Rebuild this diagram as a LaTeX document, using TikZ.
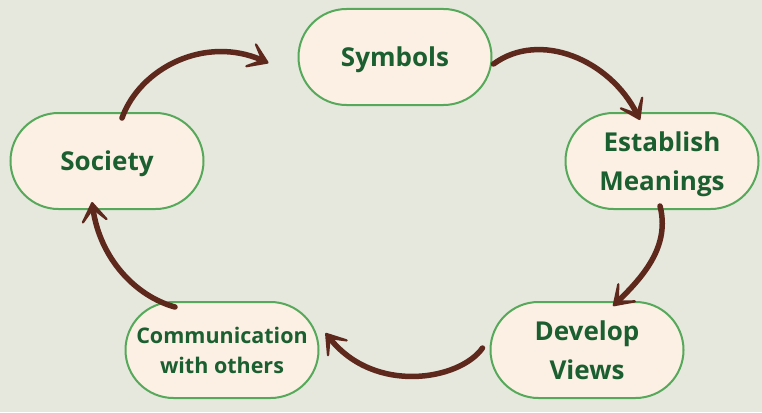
\documentclass[tikz,border=0pt]{standalone}
\usepackage{fontspec}
\setmainfont{Open Sans}
\usetikzlibrary{arrows.meta}
\definecolor{bgc}{HTML}{E6E8DD}
\definecolor{cream}{HTML}{FBF0E3}
\definecolor{pillborder}{HTML}{56A95A}
\definecolor{txtgreen}{HTML}{1B5E30}
\definecolor{brown}{HTML}{5E281D}
\tikzset{
  pill/.style={draw=pillborder, line width=2pt, fill=cream, minimum width=193pt,
    minimum height=96pt, rounded corners=48pt, align=center, text=txtgreen,
    font=\bfseries\fontsize{26}{39}\selectfont, inner sep=0pt, text depth=0pt},
  smallpill/.style={pill, font=\bfseries\fontsize{21.5}{30}\selectfont},
  brusharrow/.style={draw=brown, line width=5.5pt, line cap=round,
    -{Stealth[length=30pt, width=40pt, inset=21pt, round]}}
}
\begin{document}
\begin{tikzpicture}[x=1pt, y=-1pt]
\fill[bgc] (0,0) rectangle (762,412);
\useasboundingbox (0,0) rectangle (762,412);
\node[pill] (sym) at (395,57) {Symbols};
\node[pill] (est) at (662,161) {Establish\\Meanings};
\node[pill] (soc) at (107,161) {Society};
\node[pill] (dev) at (587,350) {Develop\\Views};
\node[smallpill] (com) at (222,350) {Communication\\with others};
% connector end points
\coordinate (a1s) at ([shift={(15pt,-6pt)}]soc.north);
\coordinate (a1e) at ([shift={(-29pt,-6pt)}]sym.west);
\coordinate (a2s) at ([shift={(1pt,-7pt)}]sym.east);
\coordinate (a2e) at ([shift={(-22pt,-8pt)}]est.north);
\coordinate (a3s) at ([shift={(-2pt,4pt)}]est.south);
\coordinate (a3e) at ([shift={(26pt,-5pt)}]dev.north);
\coordinate (a4s) at ([shift={(-7pt,2pt)}]dev.west);
\coordinate (a4e) at ([shift={(6pt,17pt)}]com.east);
\coordinate (a5s) at ([shift={(-47pt,-6pt)}]com.north);
\coordinate (a5e) at ([shift={(-15pt,8pt)}]soc.south);
\draw[brusharrow] (a1s) .. controls (140,68) and (205,35) .. (a1e);
\draw[brusharrow] (a2s) .. controls (540,30) and (610,60) .. (a2e);
\draw[brusharrow] (a3s) .. controls (670,245) and (645,275) .. (a3e);
\draw[brusharrow] (a4s) .. controls (460,380) and (375,395) .. (a4e);
\draw[brusharrow] (a5s) .. controls (135,296) and (100,258) .. (a5e);
\end{tikzpicture}
\end{document}
